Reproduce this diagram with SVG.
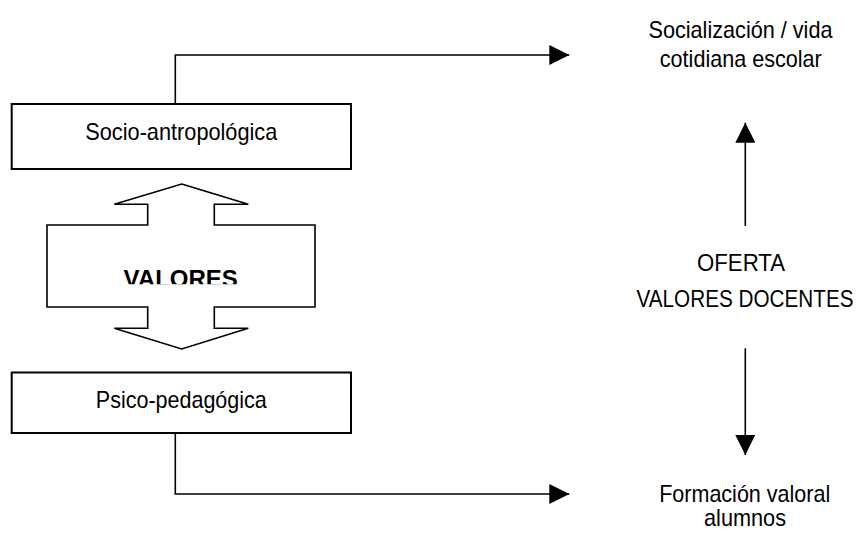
<svg xmlns="http://www.w3.org/2000/svg" width="858" height="533" viewBox="0 0 858 533">
<style>
.box{fill:#fff;stroke:#000;stroke-width:2}
.shape{fill:#fff;stroke:#000;stroke-width:1.6;stroke-linejoin:miter}
.conn{fill:none;stroke:#000;stroke-width:1.6}
.t{font-family:"Liberation Sans",Arial,sans-serif;font-size:24px;fill:#000;text-anchor:middle}
.b{font-family:"Liberation Sans",Arial,sans-serif;font-size:24px;font-weight:bold;fill:#000;text-anchor:middle}
</style>
<defs>
<marker id="ah" markerUnits="userSpaceOnUse" markerWidth="20" markerHeight="20" refX="20" refY="10" orient="auto" viewBox="0 0 20 20">
<path d="M0,0 L20,10 L0,20 z" fill="#000"/>
</marker>
<clipPath id="clipV"><rect x="0" y="0" width="858" height="284.3"/></clipPath>
</defs>
<rect width="858" height="533" fill="#fff"/>
<g id="connectors">
<path class="conn" d="M175.3,104 V55 H569.3" marker-end="url(#ah)"/>
<path class="conn" d="M175.3,433 V494 H569.3" marker-end="url(#ah)"/>
<path class="conn" d="M745.3,226 V122.7" marker-end="url(#ah)"/>
<path class="conn" d="M745.3,348.3 V455" marker-end="url(#ah)"/>
</g>
<g id="socio">
<rect class="box" x="11.7" y="104" width="339.3" height="65"/>
<text class="t" x="181.3" y="139.5" textLength="192" lengthAdjust="spacingAndGlyphs">Socio-antropológica</text>
</g>
<g id="psico">
<rect class="box" x="11.7" y="372.5" width="339.3" height="60.5"/>
<text class="t" x="181.3" y="408.3" textLength="171" lengthAdjust="spacingAndGlyphs">Psico-pedagógica</text>
</g>
<g id="valores">
<polygon class="shape" points="181.7,184 248.3,204.3 214.3,204.3 214.3,225 315,225 315,307 214.3,307 214.3,328.3 248.3,328.3 181.7,349 114.3,328.3 147.7,328.3 147.7,307 47,307 47,225 147.7,225 147.7,204.3 114.3,204.3"/>
<text class="b" x="180.7" y="286.5" clip-path="url(#clipV)">VALORES</text>
</g>
<g id="socializacion">
<text class="t" x="740.5" y="38.3" textLength="184" lengthAdjust="spacingAndGlyphs">Socialización / vida</text>
<text class="t" x="740.8" y="66.7" textLength="162" lengthAdjust="spacingAndGlyphs">cotidiana escolar</text>
</g>
<g id="oferta">
<text class="t" x="741" y="271" textLength="88" lengthAdjust="spacingAndGlyphs">OFERTA</text>
<text class="t" x="745" y="306.7" textLength="217" lengthAdjust="spacingAndGlyphs">VALORES DOCENTES</text>
</g>
<g id="formacion">
<text class="t" x="744.7" y="501.5" textLength="171" lengthAdjust="spacingAndGlyphs">Formación valoral</text>
<text class="t" x="745" y="525.5" textLength="82" lengthAdjust="spacingAndGlyphs">alumnos</text>
</g>
</svg>
